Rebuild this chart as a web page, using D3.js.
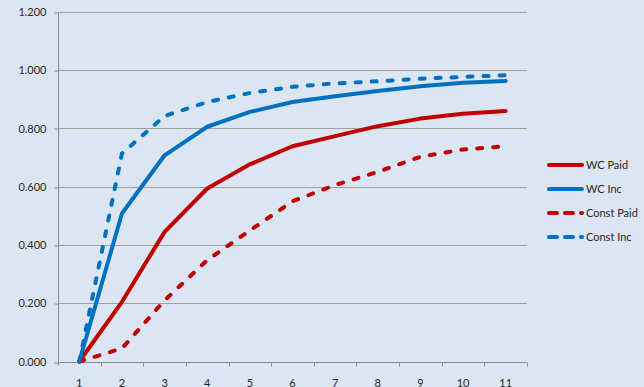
<!DOCTYPE html>
<html>
<head>
<meta charset="utf-8">
<script src="https://cdn.jsdelivr.net/npm/d3@7"></script>
<style>
  html, body { margin: 0; padding: 0; background: #dce6f2; }
  svg { display: block; }
  text { font-family: Lato, "Open Sans", sans-serif; font-size: 11px; fill: #262626; }
</style>
</head>
<body>
<svg id="chart" width="644" height="387"></svg>
<script>
// Development periods along the x axis
const periods = [1, 2, 3, 4, 5, 6, 7, 8, 9, 10, 11];

// Cumulative development percentages per series
const wcPaid    = [0.000, 0.205, 0.445, 0.594, 0.677, 0.739, 0.774, 0.808, 0.834, 0.851, 0.860];
const wcInc     = [0.000, 0.508, 0.708, 0.806, 0.857, 0.891, 0.911, 0.929, 0.945, 0.957, 0.963];
const constPaid = [0.000, 0.045, 0.210, 0.348, 0.450, 0.550, 0.606, 0.651, 0.703, 0.728, 0.739];
const constInc  = [0.000, 0.714, 0.843, 0.891, 0.922, 0.943, 0.955, 0.962, 0.971, 0.977, 0.983];

const yTicks = [0, 0.2, 0.4, 0.6, 0.8, 1.0, 1.2];

const seriesNames  = ["WC Paid", "WC Inc", "Const Paid", "Const Inc"];
const seriesValues = [wcPaid, wcInc, constPaid, constInc];
const seriesColors = ["#c00000", "#0070c0", "#c00000", "#0070c0"];
const seriesDashed = [false, false, true, true];

const svg = d3.select("#chart");

const plot = { left: 58, right: 527, top: 12, bottom: 361.5 };

const x = d3.scaleBand().domain(periods).range([plot.left, plot.right]).padding(0);
const y = d3.scaleLinear().domain([0, 1.2]).range([plot.bottom, plot.top]);
const cx = p => x(p) + x.bandwidth() / 2;

// Horizontal gridlines
svg.append("g")
  .selectAll("line")
  .data(yTicks.filter(t => t > 0))
  .join("line")
  .attr("x1", plot.left).attr("x2", plot.right)
  .attr("y1", d => Math.round(y(d)) + 0.5).attr("y2", d => Math.round(y(d)) + 0.5)
  .attr("stroke", "#a0a0a0").attr("stroke-width", 1);

// Y axis
const yAxis = d3.axisLeft(y).tickValues(yTicks).tickFormat(d3.format(".3f")).tickSize(4).tickPadding(8);
const gy = svg.append("g").attr("transform", `translate(${plot.left + 0.5},0)`).call(yAxis);
gy.select(".domain").attr("stroke", "#8c8c8c").attr("d", `M0,${plot.top}V${plot.bottom + 4}`);
gy.selectAll(".tick line").attr("stroke", "#8c8c8c")
  .attr("transform", function(d) { return `translate(0,${Math.round(y(d)) + 0.5 - y(d)})`; });
gy.selectAll(".tick text").style("font-family", "Lato, sans-serif").style("font-size", "11px").attr("fill", "#262626");

// X axis with tick marks between categories
const gx = svg.append("g").attr("transform", `translate(0,${Math.round(plot.bottom) + 0.5})`);
gx.append("line")
  .attr("x1", plot.left).attr("x2", plot.right)
  .attr("stroke", "#8c8c8c");
const boundaries = periods.map(p => x(p) + x.bandwidth()).concat([]);
gx.selectAll("line.tk")
  .data(boundaries)
  .join("line").attr("class", "tk")
  .attr("x1", d => Math.round(d) + 0.5).attr("x2", d => Math.round(d) + 0.5)
  .attr("y1", 0).attr("y2", 4)
  .attr("stroke", "#8c8c8c");
gx.selectAll("text")
  .data(periods)
  .join("text")
  .attr("x", d => cx(d))
  .attr("y", 24)
  .attr("text-anchor", "middle")
  .text(d => d);

// Series lines
const line = d3.line().x((d, i) => cx(periods[i])).y(d => y(d));
seriesValues.forEach((vals, k) => {
  svg.append("path")
    .datum(vals)
    .attr("d", line)
    .attr("fill", "none")
    .attr("stroke", seriesColors[k])
    .attr("stroke-width", 4)
    .attr("stroke-linejoin", "round")
    .attr("stroke-linecap", "round")
    .attr("stroke-dasharray", seriesDashed[k] ? "5,11" : null);
});

// Legend
const legendY = [165, 189, 213, 237];
const lg = svg.append("g");
seriesNames.forEach((name, k) => {
  lg.append("line")
    .attr("x1", 549).attr("x2", 582)
    .attr("y1", legendY[k]).attr("y2", legendY[k])
    .attr("stroke", seriesColors[k])
    .attr("stroke-width", 4)
    .attr("stroke-linecap", "round")
    .attr("stroke-dasharray", seriesDashed[k] ? "8,8" : null);
  lg.append("text")
    .attr("x", 586).attr("y", legendY[k])
    .attr("dy", "0.35em")
    .text(name);
});
</script>
</body>
</html>
